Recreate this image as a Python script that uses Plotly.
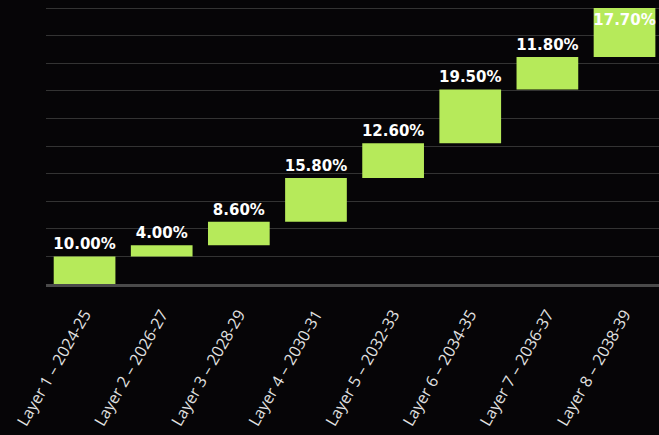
import plotly.graph_objects as go

categories = ["Layer 1 – 2024-25", "Layer 2 – 2026-27", "Layer 3 – 2028-29",
              "Layer 4 – 2030-31", "Layer 5 – 2032-33", "Layer 6 – 2034-35",
              "Layer 7 – 2036-37", "Layer 8 – 2038-39"]
values = [10.0, 4.0, 8.6, 15.8, 12.6, 19.5, 11.8, 17.7]
labels = [f"{v:.2f}%" for v in values]

BG = "#060507"
BAR = "#b6ea5a"
LABEL_FONT = dict(family="DejaVu Sans", size=15, color="#ffffff", weight="bold")

fig = go.Figure(go.Waterfall(
    x=categories,
    y=values,
    measure=["relative"] * len(values),
    text=labels,
    textposition=["outside"] * (len(values) - 1) + ["inside"],
    insidetextanchor="end",
    textfont=LABEL_FONT,
    insidetextfont=LABEL_FONT,
    outsidetextfont=LABEL_FONT,
    constraintext="none",
    increasing=dict(marker=dict(color=BAR)),
    connector=dict(visible=False),
    cliponaxis=False,
    hoverinfo="skip",
))

fig.update_layout(
    width=659, height=435,
    margin=dict(l=46, r=0, t=7, b=151),
    paper_bgcolor=BG, plot_bgcolor=BG,
    bargap=0.196,
    showlegend=False,
)
fig.update_xaxes(
    range=[-0.5, 7.447],
    tickangle=-60,
    tickfont=dict(family="Open Sans", size=16, color="#e2e2e2"),
    showgrid=False,
    showline=True, linecolor="#4a4a4a", linewidth=3,
    ticks="", ticklabelstandoff=12,
)
fig.update_yaxes(
    range=[0, 100.4], dtick=10,
    showticklabels=False,
    gridcolor="#333333", gridwidth=1,
    zeroline=False,
)

fig.write_html("out.html")
